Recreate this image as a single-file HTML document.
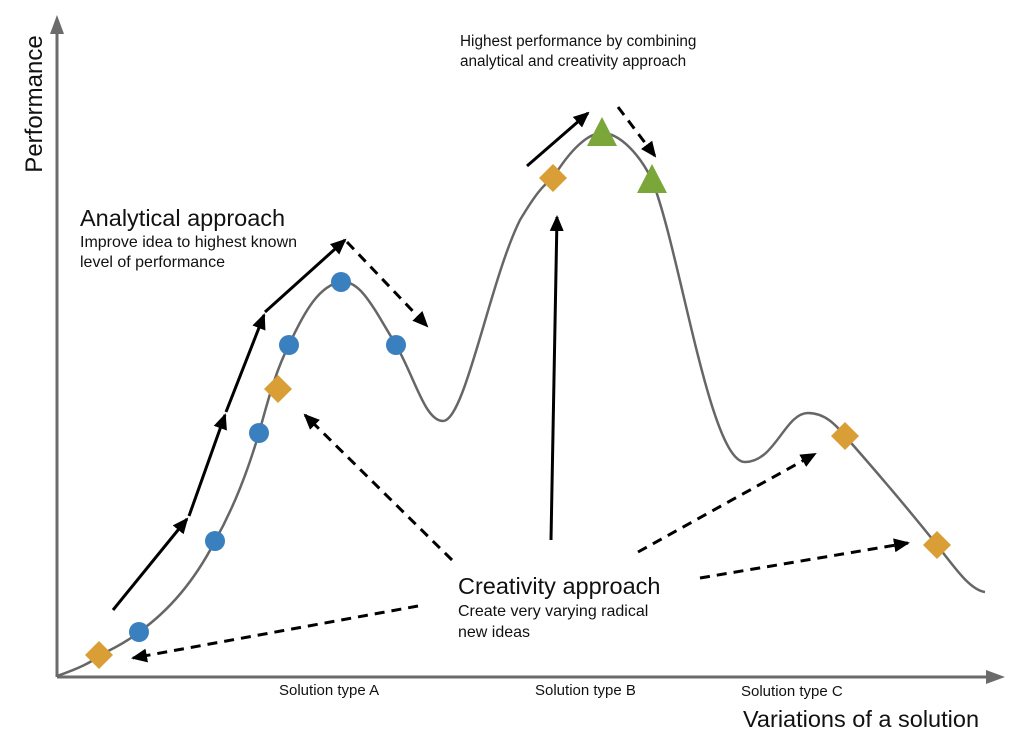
<!DOCTYPE html>
<html><head><style>body{margin:0;background:#fff}svg{display:block}text{font-family:"Liberation Sans",sans-serif;fill:#111}</style></head><body>
<svg width="1024" height="744" viewBox="0 0 1024 744">
<defs>
<marker id="ahs" markerWidth="16" markerHeight="14" refX="14" refY="7" orient="auto" markerUnits="userSpaceOnUse" viewBox="0 0 16 14"><path d="M0,0 L16,7 L0,14 z" fill="#000"/></marker>
</defs>
<line x1="57" y1="677" x2="57" y2="30" stroke="#6b6b6b" stroke-width="3"/>
<path d="M50,34 L57,15 L64,34 z" fill="#6b6b6b"/>
<line x1="57" y1="677" x2="990" y2="677" stroke="#6b6b6b" stroke-width="3"/>
<path d="M986,670 L1005,677 L986,684 z" fill="#6b6b6b"/>
<path d="M57,676 C80,668 92,662 100,655 C115,648 128,641 139,632 C170,610 195,580 215,541 C235,505 248,470 259,433 C268,400 276,370 289,345 C305,310 320,285 341,282 C360,280 372,305 396,345 C415,378 425,421 443,421 C465,421 490,280 520,220 C535,195 543,185 553,178 C570,150 588,133 602,133 C620,133 640,155 652,180 C680,250 710,462 745,462 C775,462 785,413 808,413 C825,413 836,425 845,436 C875,470 905,505 937,545 C955,568 970,590 985,592" fill="none" stroke="#666" stroke-width="2.5"/>
<g fill="#3a80bf">
<circle cx="139" cy="632" r="10"/><circle cx="215" cy="541" r="10"/><circle cx="259" cy="433" r="10"/><circle cx="289" cy="345" r="10"/><circle cx="341" cy="282" r="10"/><circle cx="396" cy="345" r="10"/>
</g>
<g fill="#d99e35">
<path d="M99,641 L113,655 L99,669 L85,655 z"/>
<path d="M278,375 L292,389 L278,403 L264,389 z"/>
<path d="M553,164 L567,178 L553,192 L539,178 z"/>
<path d="M845,422 L859,436 L845,450 L831,436 z"/>
<path d="M937,531 L951,545 L937,559 L923,545 z"/>
</g>
<g fill="#7ba63a">
<path d="M602,117 L617,146 L587,146 z"/>
<path d="M652,164 L667,193 L637,193 z"/>
</g>
<g stroke="#000" stroke-width="3" fill="none">
<line x1="113" y1="610" x2="187" y2="519" marker-end="url(#ahs)"/>
<line x1="189" y1="516" x2="225" y2="415" marker-end="url(#ahs)"/>
<line x1="226" y1="412" x2="264" y2="315" marker-end="url(#ahs)"/>
<line x1="265" y1="312" x2="345" y2="240" marker-end="url(#ahs)"/>
<line x1="527" y1="166" x2="588" y2="113" marker-end="url(#ahs)"/>
<line x1="551" y1="540" x2="557" y2="217" marker-end="url(#ahs)"/>
</g>
<g stroke="#000" stroke-width="3" fill="none" stroke-dasharray="10,7">
<line x1="347" y1="242" x2="427" y2="326" marker-end="url(#ahs)"/>
<line x1="618" y1="107" x2="655" y2="156" marker-end="url(#ahs)"/>
<line x1="452" y1="560" x2="305" y2="415" marker-end="url(#ahs)"/>
<line x1="418" y1="606" x2="133" y2="658" marker-end="url(#ahs)"/>
<line x1="638" y1="552" x2="815" y2="454" marker-end="url(#ahs)"/>
<line x1="700" y1="578" x2="908" y2="543" marker-end="url(#ahs)"/>
</g>
<text transform="translate(42,104) rotate(-90)" font-size="24" text-anchor="middle">Performance</text>
<text x="80" y="226" font-size="23.5">Analytical approach</text>
<text x="80" y="247" font-size="16">Improve idea to highest known</text>
<text x="80" y="267" font-size="16">level of performance</text>
<text x="460" y="46" font-size="15.3">Highest performance by combining</text>
<text x="460" y="66" font-size="15.3">analytical and creativity approach</text>
<text x="458" y="594" font-size="23.5">Creativity approach</text>
<text x="458" y="616" font-size="16">Create very varying radical</text>
<text x="458" y="637" font-size="16">new ideas</text>
<text x="279" y="695" font-size="15">Solution type A</text>
<text x="535" y="695" font-size="15">Solution type B</text>
<text x="741" y="696" font-size="15">Solution type C</text>
<text x="743" y="727" font-size="23.5">Variations of a solution</text>
</svg>
</body></html>
